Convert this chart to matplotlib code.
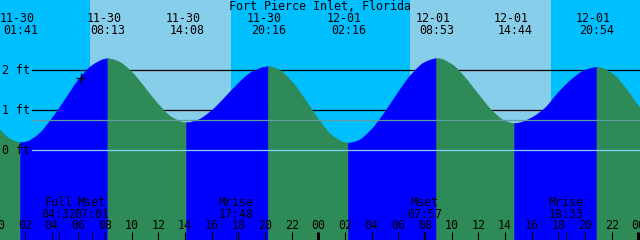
import numpy as np
import matplotlib
matplotlib.use("Agg")
import matplotlib.pyplot as plt
from matplotlib.path import Path
from matplotlib.patches import PathPatch

# tide height (ft), hours from 11-30 00:00
tide_hours = [-0.5, 0, 1, 1.68, 2, 3, 4, 5, 6, 7, 8, 8.22, 9, 10, 11, 12, 13, 14, 14.13,
              15, 16, 17, 18, 19, 20, 20.27, 21, 22, 23, 24, 25, 26, 26.27, 27, 28, 29,
              30, 31, 32, 32.88, 33, 34, 35, 36, 37, 38, 38.73, 39, 40, 41, 42, 43, 44,
              44.9, 45, 46, 47, 48, 48.5]
tide_ft = [0.72, 0.54, 0.25, 0.18, 0.19, 0.38, 0.77, 1.25, 1.74, 2.10, 2.27, 2.28, 2.21,
           1.95, 1.55, 1.14, 0.82, 0.68, 0.68, 0.75, 0.98, 1.31, 1.66, 1.94, 2.07, 2.08,
           2.01, 1.71, 1.26, 0.77, 0.37, 0.18, 0.17, 0.23, 0.51, 0.94, 1.44, 1.89, 2.19,
           2.28, 2.28, 2.14, 1.81, 1.39, 0.99, 0.72, 0.66, 0.67, 0.80, 1.04, 1.43, 1.76,
           1.99, 2.06, 2.06, 1.92, 1.56, 1.10, 0.86]

# high / low tide labels
event_dates = ["11-30", "11-30", "11-30", "11-30", "12-01", "12-01", "12-01", "12-01"]
event_times = ["01:41", "08:13", "14:08", "20:16", "02:16", "08:53", "14:44", "20:54"]

# daylight (sunrise, sunset) in hours
day_bands = [(6.87, 17.45), (30.88, 41.45)]

# moon events
moon_names = ["Full", "Mset", "Mrise", "Mset", "Mrise"]
moon_hours = [4.53, 7.02, 17.80, 31.95, 42.55]
moon_times = ["04:32", "07:01", "17:48", "07:57", "18:33"]

mean_level = 0.74
ft_levels = [0, 1, 2]
now_hour, now_ft = 6.2, 1.79

night_c = "#00BFFF"
day_c = "#87CEEB"
rise_c = "#0000FF"
fall_c = "#2E8B57"

mono = "DejaVu Sans Mono"
fs = 8.4


def to_hours(t, date):
    hh, mm = t.split(":")
    return int(hh) + int(mm) / 60 + (24 if date == "12-01" else 0)


def smooth_fill(xs, ys, bottom, flat_start, flat_end):
    # monotone cubic through the read points, drawn as bezier segments
    d = np.diff(ys) / np.diff(xs)
    m = np.zeros(len(xs))
    for k in range(1, len(xs) - 1):
        if d[k - 1] * d[k] > 0:
            m[k] = 2 * d[k - 1] * d[k] / (d[k - 1] + d[k])
    m[0] = 0 if flat_start else d[0]
    m[-1] = 0 if flat_end else d[-1]
    verts = [(xs[0], bottom), (xs[0], ys[0])]
    codes = [Path.MOVETO, Path.LINETO]
    for k in range(len(xs) - 1):
        dx = xs[k + 1] - xs[k]
        verts += [(xs[k] + dx / 3, ys[k] + m[k] * dx / 3),
                  (xs[k + 1] - dx / 3, ys[k + 1] - m[k + 1] * dx / 3),
                  (xs[k + 1], ys[k + 1])]
        codes += [Path.CURVE4] * 3
    verts += [(xs[-1], bottom), (xs[0], bottom)]
    codes += [Path.LINETO, Path.CLOSEPOLY]
    return Path(verts, codes)


fig = plt.figure(figsize=(6.4, 2.4), dpi=100)
ax = fig.add_axes([0, 0, 1, 1])
ax.set_xlim(0.125, 48.125)
ax.set_ylim(-2.25, 3.75)
ax.set_facecolor(night_c)
ax.set_xticks([])
ax.set_yticks([])
for s in ax.spines.values():
    s.set_visible(False)

for a, b in day_bands:
    ax.axvspan(a, b, color=day_c, lw=0, zorder=0)

for lv in ft_levels[1:]:
    ax.axhline(lv, xmin=0.05, xmax=1, color="black", lw=0.9, zorder=1)

h = np.array(tide_hours)
v = np.array(tide_ft)
turns = [to_hours(t, d) for t, d in zip(event_times, event_dates)]
bounds = [h[0]] + turns + [h[-1]]
bottom = ax.get_ylim()[0] - 0.5
for i, (a, b) in enumerate(zip(bounds[:-1], bounds[1:])):
    msk = (h >= a - 0.01) & (h <= b + 0.01)
    c = rise_c if v[msk][-1] > v[msk][0] else fall_c
    p = smooth_fill(h[msk], v[msk], bottom, i > 0, i < len(bounds) - 2)
    ax.add_patch(PathPatch(p, facecolor=c, edgecolor=c, lw=0.5, zorder=2))

ax.axhline(0, xmin=0.05, xmax=1, color="#87CEFA", lw=0.9, zorder=3)
ax.axhline(mean_level, xmin=0.05, xmax=1, color="#5F9EA0", lw=0.9, zorder=3)

ax.plot(now_hour, now_ft, "+", color="black", ms=7, mew=0.9, zorder=4)

yt = ax.get_yaxis_transform()
for lv in ft_levels:
    ax.text(0.003, lv - 0.1, f"{lv} ft", transform=yt, family=mono, fontsize=fs,
            va="baseline", ha="left", zorder=5)

xt = ax.get_xaxis_transform()
ax.text(0.5, 0.958, "Fort Pierce Inlet, Florida", transform=ax.transAxes, family=mono,
        fontsize=fs, ha="center", va="baseline", zorder=5)
for x, d, t in zip(turns, event_dates, event_times):
    ax.text(x - 0.3, 0.91, d, transform=xt, family=mono, fontsize=fs,
            ha="center", va="baseline", zorder=5)
    ax.text(x, 0.858, t, transform=xt, family=mono, fontsize=fs,
            ha="center", va="baseline", zorder=5)

for x, n, t in zip(moon_hours, moon_names, moon_times):
    ax.text(x, 0.142, n, transform=xt, family=mono, fontsize=fs,
            ha="center", va="baseline", zorder=5)
    ax.text(x, 0.090, t, transform=xt, family=mono, fontsize=fs,
            ha="center", va="baseline", zorder=5)
ax.vlines(moon_hours, 0, 8 / 240, transform=xt, color="black", lw=0.6, zorder=5)

hour_ticks = list(range(0, 49, 2))
for x in hour_ticks:
    ax.text(x, 0.045, f"{x % 24:02d}", transform=xt, family=mono, fontsize=fs,
            ha="center", va="baseline", zorder=5, clip_on=False)
    lw = 2.2 if x % 24 == 0 else 0.8
    ax.vlines(x, 0, 8 / 240, transform=xt, color="black", lw=lw, zorder=5)

fig.savefig("out.png", dpi=100)
